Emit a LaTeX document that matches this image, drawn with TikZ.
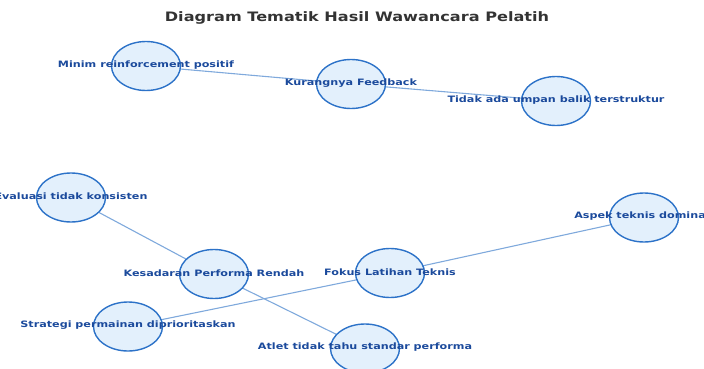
\documentclass[tikz,border=0pt]{standalone}
\usepackage{fontspec}
\usetikzlibrary{backgrounds,shapes.geometric}
\newfontfamily\labfont[FakeStretch=1.27]{DejaVu Sans Bold}
\newfontfamily\titfont[FakeStretch=1.24]{DejaVu Sans Bold}
\definecolor{nodefill}{HTML}{E3F0FC}
\definecolor{nodeline}{HTML}{2C72C8}
\definecolor{edgecol}{HTML}{7FA9DC}
\definecolor{labcol}{HTML}{1B4A9C}
\definecolor{titcol}{HTML}{333333}
\tikzset{
  ell/.style={ellipse, draw=nodeline, fill=nodefill, line width=1.4pt, minimum width=69pt, minimum height=49pt, inner sep=0pt},
  lab/.style={text=labcol, font=\labfont\fontsize{8.8}{10}\selectfont, inner sep=0pt},
  edge/.style={draw=edgecol, line width=1.1pt},
}
\begin{document}
\begin{tikzpicture}[x=1pt,y=1pt]
\useasboundingbox (0,0) rectangle (704,368);
\clip (0,0) rectangle (704,368);
\node[font=\titfont\fontsize{13}{15}\selectfont, text=titcol] (title) at (357,350) {Diagram Tematik Hasil Wawancara Pelatih};
\node[ell] (m) at (146,302) {};
\node[ell] (k) at (351,284) {};
\node[ell] (t) at (556,267) {};
\node[ell] (e) at (71,170.5) {};
\node[ell] (s) at (214,94) {};
\node[ell] (f) at (390,95) {};
\node[ell] (a) at (644,150.5) {};
\node[ell] (g) at (128,41.5) {};
\node[ell] (at) at (365,19.5) {};
\begin{scope}[on background layer]
\draw[edge] (m.center) -- (k.center);
\draw[edge] (k.center) -- (t.center);
\draw[edge] (e.center) -- (s.center);
\draw[edge] (s.center) -- (at.center);
\draw[edge] (g.center) -- (f.center);
\draw[edge] (f.center) -- (a.center);
\end{scope}
\node[lab] at ([yshift=1pt]m.center) {Minim reinforcement positif};
\node[lab] at ([yshift=1pt]k.center) {Kurangnya Feedback};
\node[lab] at ([yshift=1pt]t.center) {Tidak ada umpan balik terstruktur};
\node[lab] at ([yshift=1pt]e.center) {Evaluasi tidak konsisten};
\node[lab] at ([yshift=1pt]s.center) {Kesadaran Performa Rendah};
\node[lab] at ([yshift=1pt]f.center) {Fokus Latihan Teknis};
\node[lab] at ([yshift=1pt]a.center) {Aspek teknis dominan};
\node[lab] at ([yshift=1pt]g.center) {Strategi permainan diprioritaskan};
\node[lab] at ([yshift=1pt]at.center) {Atlet tidak tahu standar performa};
\end{tikzpicture}
\end{document}
